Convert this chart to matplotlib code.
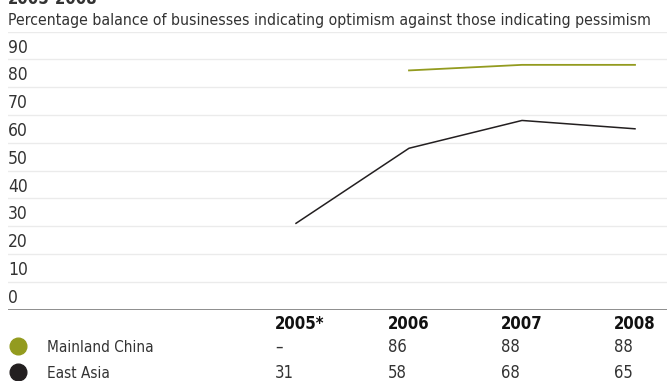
import matplotlib
matplotlib.use("Agg")
import matplotlib.pyplot as plt
from matplotlib.transforms import blended_transform_factory
import numpy as np

# Данные
years = ["2005*", "2006", "2007", "2008"]
china = [np.nan, 86, 88, 88]
east_asia = [31, 58, 68, 65]
china_labels = ["–", "86", "88", "88"]
east_asia_labels = ["31", "58", "68", "65"]
y_ticks = list(range(0, 100, 10))

OLIVE = "#939b1f"
DARK = "#231f20"
TEXT = "#333333"

plt.rcParams["font.family"] = ["DejaVu Sans"]
plt.rcParams["font.stretch"] = "condensed"

W, H = 667, 381
fig = plt.figure(figsize=(W / 100, H / 100), dpi=100)

# область графика в пикселях
left, right, bottom, top = 8, 667, 309.5, 31.5
ax = fig.add_axes([left / W, (H - bottom) / H, (right - left) / W, (bottom - top) / H])

x = np.arange(len(years))
step = 113
x0 = (left - 296) / step
ax.set_xlim(x0, (right - 296) / step)
ax.set_ylim(0, 100)

for v in range(10, 101, 10):
    ax.axhline(v, color="#ebebeb", lw=1.0, zorder=1)
ax.axhline(0, color="#7a7a7a", lw=1.2, zorder=3)

ax.plot(x, east_asia, color=DARK, lw=1.1, zorder=4)
ax.plot(x, china, color=OLIVE, lw=1.3, zorder=4)

for v in y_ticks:
    ax.text(x0, v + 1.0, str(v), ha="left", va="bottom",
            fontsize=12.5, color=TEXT)

for s in ax.spines.values():
    s.set_visible(False)
ax.set_xticks([])
ax.set_yticks([])

# заголовок и подзаголовок
fig.text(left / W, 1 - 4 / H, "2005-2008", ha="left", va="baseline",
         fontsize=12, fontweight="bold", color=TEXT)
fig.text(left / W, 1 - 25 / H, "Percentage balance of businesses indicating optimism "
         "against those indicating pessimism", ha="left", va="baseline",
         fontsize=11.3, color=TEXT)

# таблица значений под графиком
tr = blended_transform_factory(ax.transData, fig.transFigure)
off = 21 / step
row_header = 1 - 329 / H
row_china = 1 - 352 / H
row_ea = 1 - 378 / H
for i, yr in enumerate(years):
    fig.text(i - off, row_header, yr, transform=tr, ha="left", va="baseline",
             fontsize=12, fontweight="bold", color="#111111")
    fig.text(i - off, row_china, china_labels[i], transform=tr, ha="left", va="baseline",
             fontsize=12, color=TEXT)
    fig.text(i - off, row_ea, east_asia_labels[i], transform=tr, ha="left", va="baseline",
             fontsize=12, color=TEXT)

for name, col, yrow in [("Mainland China", OLIVE, row_china), ("East Asia", DARK, row_ea)]:
    fig.add_artist(plt.Line2D([18 / W], [yrow + 6 / H], marker="o", markersize=12,
                              color=col, transform=fig.transFigure))
    fig.text(47 / W, yrow, name, ha="left", va="baseline", fontsize=11, color=TEXT)

fig.savefig("out.png", dpi=100)
